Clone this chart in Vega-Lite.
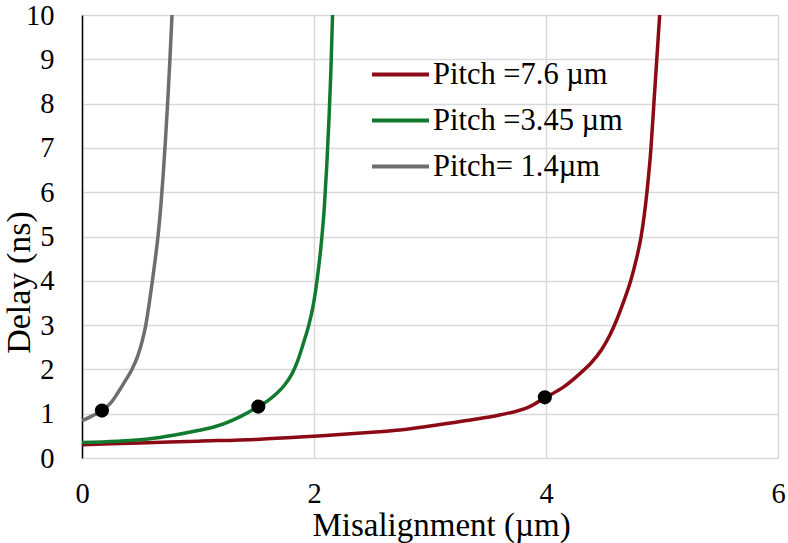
{
  "$schema": "https://vega.github.io/schema/vega-lite/v6.json",
  "width": 696,
  "height": 443,
  "autosize": {"type": "none"},
  "padding": {"left": 82, "top": 15, "right": 10, "bottom": 85},
  "background": "white",
  "config": {
    "font": "Liberation Serif",
    "view": {"stroke": null},
    "axis": {"labelFont": "Liberation Serif", "titleFont": "Liberation Serif", "gridColor": "#d9d9d9", "gridWidth": 1.5, "gridOpacity": 1, "ticks": false, "tickSize": 0, "labelColor": "#000000", "titleColor": "#000000", "labelFontSize": 28.5, "titleFontSize": 33, "titleFontWeight": "normal"},
    "legend": {"labelFont": "Liberation Serif"}
  },
  "datasets": {
    "curves": [
      {"series": "Pitch =7.6 µm", "x": 0, "y": 0.3},
      {"series": "Pitch =7.6 µm", "x": 0.5, "y": 0.34},
      {"series": "Pitch =7.6 µm", "x": 1.0, "y": 0.38},
      {"series": "Pitch =7.6 µm", "x": 1.5, "y": 0.42},
      {"series": "Pitch =7.6 µm", "x": 2.07, "y": 0.5},
      {"series": "Pitch =7.6 µm", "x": 2.5, "y": 0.58},
      {"series": "Pitch =7.6 µm", "x": 2.74, "y": 0.63},
      {"series": "Pitch =7.6 µm", "x": 3.0, "y": 0.72},
      {"series": "Pitch =7.6 µm", "x": 3.3, "y": 0.84},
      {"series": "Pitch =7.6 µm", "x": 3.6, "y": 0.97},
      {"series": "Pitch =7.6 µm", "x": 3.86, "y": 1.16},
      {"series": "Pitch =7.6 µm", "x": 3.99, "y": 1.36},
      {"series": "Pitch =7.6 µm", "x": 4.15, "y": 1.6},
      {"series": "Pitch =7.6 µm", "x": 4.29, "y": 1.9},
      {"series": "Pitch =7.6 µm", "x": 4.39, "y": 2.15},
      {"series": "Pitch =7.6 µm", "x": 4.48, "y": 2.45},
      {"series": "Pitch =7.6 µm", "x": 4.55, "y": 2.77},
      {"series": "Pitch =7.6 µm", "x": 4.61, "y": 3.12},
      {"series": "Pitch =7.6 µm", "x": 4.665, "y": 3.5},
      {"series": "Pitch =7.6 µm", "x": 4.73, "y": 4.0},
      {"series": "Pitch =7.6 µm", "x": 4.78, "y": 4.5},
      {"series": "Pitch =7.6 µm", "x": 4.82, "y": 5.0},
      {"series": "Pitch =7.6 µm", "x": 4.87, "y": 6.0},
      {"series": "Pitch =7.6 µm", "x": 4.905, "y": 7.0},
      {"series": "Pitch =7.6 µm", "x": 4.93, "y": 8.0},
      {"series": "Pitch =7.6 µm", "x": 4.955, "y": 9.0},
      {"series": "Pitch =7.6 µm", "x": 4.98, "y": 10.0},
      {"series": "Pitch =3.45 µm", "x": 0, "y": 0.35},
      {"series": "Pitch =3.45 µm", "x": 0.3, "y": 0.38},
      {"series": "Pitch =3.45 µm", "x": 0.57, "y": 0.43},
      {"series": "Pitch =3.45 µm", "x": 0.8, "y": 0.52},
      {"series": "Pitch =3.45 µm", "x": 1.0, "y": 0.62},
      {"series": "Pitch =3.45 µm", "x": 1.15, "y": 0.71},
      {"series": "Pitch =3.45 µm", "x": 1.36, "y": 0.93},
      {"series": "Pitch =3.45 µm", "x": 1.52, "y": 1.16},
      {"series": "Pitch =3.45 µm", "x": 1.6, "y": 1.29},
      {"series": "Pitch =3.45 µm", "x": 1.68, "y": 1.46},
      {"series": "Pitch =3.45 µm", "x": 1.75, "y": 1.66},
      {"series": "Pitch =3.45 µm", "x": 1.81, "y": 1.9},
      {"series": "Pitch =3.45 µm", "x": 1.86, "y": 2.2},
      {"series": "Pitch =3.45 µm", "x": 1.91, "y": 2.6},
      {"series": "Pitch =3.45 µm", "x": 1.955, "y": 3.0},
      {"series": "Pitch =3.45 µm", "x": 1.99, "y": 3.4},
      {"series": "Pitch =3.45 µm", "x": 2.015, "y": 3.8},
      {"series": "Pitch =3.45 µm", "x": 2.04, "y": 4.3},
      {"series": "Pitch =3.45 µm", "x": 2.065, "y": 4.9},
      {"series": "Pitch =3.45 µm", "x": 2.09, "y": 5.7},
      {"series": "Pitch =3.45 µm", "x": 2.11, "y": 6.6},
      {"series": "Pitch =3.45 µm", "x": 2.13, "y": 7.7},
      {"series": "Pitch =3.45 µm", "x": 2.145, "y": 8.7},
      {"series": "Pitch =3.45 µm", "x": 2.16, "y": 10.0},
      {"series": "Pitch= 1.4µm", "x": 0, "y": 0.84},
      {"series": "Pitch= 1.4µm", "x": 0.08, "y": 0.94},
      {"series": "Pitch= 1.4µm", "x": 0.172, "y": 1.07},
      {"series": "Pitch= 1.4µm", "x": 0.25, "y": 1.25},
      {"series": "Pitch= 1.4µm", "x": 0.316, "y": 1.5},
      {"series": "Pitch= 1.4µm", "x": 0.375, "y": 1.75},
      {"series": "Pitch= 1.4µm", "x": 0.43, "y": 2.0},
      {"series": "Pitch= 1.4µm", "x": 0.48, "y": 2.3},
      {"series": "Pitch= 1.4µm", "x": 0.52, "y": 2.65},
      {"series": "Pitch= 1.4µm", "x": 0.55, "y": 3.0},
      {"series": "Pitch= 1.4µm", "x": 0.58, "y": 3.5},
      {"series": "Pitch= 1.4µm", "x": 0.607, "y": 4.0},
      {"series": "Pitch= 1.4µm", "x": 0.632, "y": 4.5},
      {"series": "Pitch= 1.4µm", "x": 0.655, "y": 5.0},
      {"series": "Pitch= 1.4µm", "x": 0.68, "y": 5.7},
      {"series": "Pitch= 1.4µm", "x": 0.7, "y": 6.4},
      {"series": "Pitch= 1.4µm", "x": 0.72, "y": 7.2},
      {"series": "Pitch= 1.4µm", "x": 0.74, "y": 8.1},
      {"series": "Pitch= 1.4µm", "x": 0.758, "y": 9.0},
      {"series": "Pitch= 1.4µm", "x": 0.776, "y": 10.0}
    ],
    "points": [
      {"x": 0.172, "y": 1.07},
      {"x": 1.52, "y": 1.16},
      {"x": 3.99, "y": 1.37}
    ]
  },
  "layer": [
    {
      "data": {"name": "curves"},
      "mark": {"type": "line", "interpolate": "monotone", "strokeWidth": 3.5, "clip": true},
      "encoding": {
        "x": {"field": "x", "type": "quantitative", "scale": {"domain": [0, 6]},
          "axis": {"values": [0, 2, 4, 6], "format": "d", "labelFont": "Liberation Serif", "labelFontSize": 28.5, "titleFont": "Liberation Serif", "titleFontSize": 33, "labelFlush": false, "domain": false, "labelBaseline": "alphabetic", "labelPadding": 44, "title": "Misalignment (µm)", "titleX": 359, "titleY": 77, "titleBaseline": "alphabetic", "titleAlign": "center"}},
        "y": {"field": "y", "type": "quantitative", "scale": {"domain": [0, 10]},
          "axis": {"values": [0, 1, 2, 3, 4, 5, 6, 7, 8, 9, 10], "format": "d", "labelFont": "Liberation Serif", "labelFontSize": 28.5, "titleFont": "Liberation Serif", "titleFontSize": 34, "labelFlush": false, "domain": true, "domainColor": "#000000", "domainWidth": 1.5, "labelPadding": 28, "title": "Delay (ns)", "titleX": -63, "titleY": 267, "titleBaseline": "middle", "titleAlign": "center", "titleAngle": -90}},
        "color": {"field": "series", "type": "nominal",
          "scale": {"domain": ["Pitch =7.6 µm", "Pitch =3.45 µm", "Pitch= 1.4µm"], "range": ["#8c0a16", "#127a2e", "#6e6e6e"]},
          "legend": {"title": null, "orient": "none", "legendX": 288, "legendY": 29, "symbolType": "stroke", "symbolSize": 3249, "symbolStrokeWidth": 4, "labelFont": "Liberation Serif", "labelFontSize": 30.5, "labelOffset": 2, "rowPadding": -2, "padding": 0, "labelColor": "#000000", "labelLimit": 400}}
      }
    },
    {
      "data": {"name": "points"},
      "mark": {"type": "circle", "size": 200, "color": "#000000", "opacity": 1},
      "encoding": {
        "x": {"field": "x", "type": "quantitative"},
        "y": {"field": "y", "type": "quantitative"}
      }
    }
  ]
}
